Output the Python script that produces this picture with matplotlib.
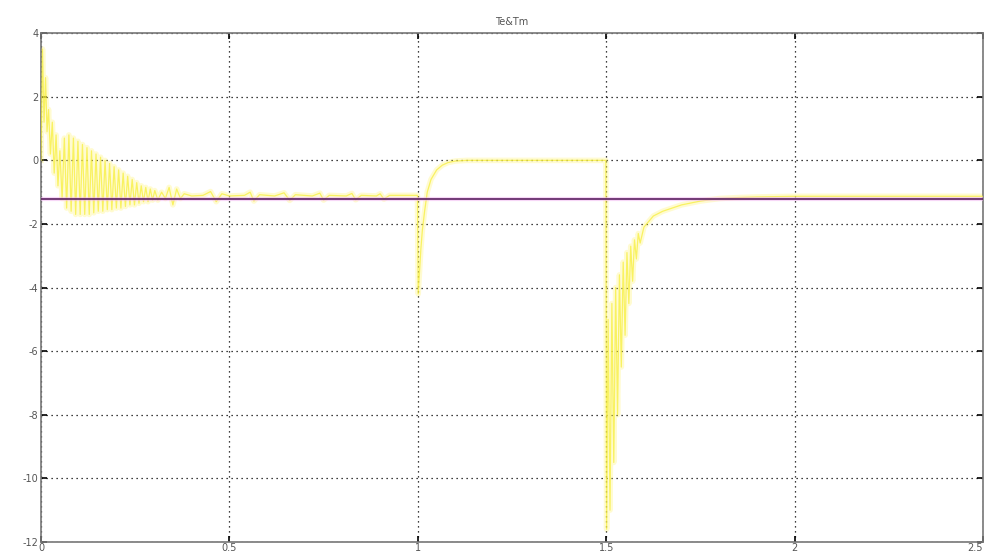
import matplotlib
matplotlib.use("Agg")
import matplotlib.pyplot as plt

plt.rcParams["axes.unicode_minus"] = False

# Te (electromagnetic torque)
te_t = [0.000, 0.004, 0.008, 0.012, 0.016, 0.020, 0.025, 0.030, 0.035, 0.040,
        0.045, 0.050, 0.056, 0.062, 0.068, 0.074, 0.080, 0.086, 0.092, 0.098,
        0.104, 0.110, 0.116, 0.122, 0.128, 0.134, 0.140, 0.146, 0.152, 0.158,
        0.164, 0.170, 0.176, 0.182, 0.188, 0.194, 0.200, 0.206, 0.212, 0.218,
        0.224, 0.230, 0.236, 0.242, 0.248, 0.254, 0.260, 0.266, 0.272, 0.278,
        0.284, 0.290, 0.296, 0.302, 0.310, 0.320, 0.330, 0.340, 0.350, 0.360,
        0.370, 0.380, 0.400, 0.430, 0.450, 0.465, 0.480, 0.500, 0.540, 0.555,
        0.565, 0.580, 0.620, 0.645, 0.660, 0.675, 0.720, 0.740, 0.750, 0.765,
        0.810, 0.825, 0.835, 0.850, 0.890, 0.900, 0.910, 0.925, 0.999,
        1.001, 1.004, 1.008, 1.012, 1.018, 1.025, 1.035, 1.050, 1.065, 1.080,
        1.100, 1.130, 1.499,
        1.501, 1.505, 1.510, 1.515, 1.520, 1.525, 1.530, 1.535, 1.540, 1.545,
        1.550, 1.555, 1.560, 1.565, 1.570, 1.575, 1.580, 1.585, 1.590, 1.600,
        1.625, 1.650, 1.700, 1.750, 1.800, 1.850, 1.900, 2.000, 2.500]
te_v = [0.0, 3.5, 1.2, 2.6, 0.9, 1.6, 0.2, 1.2, -0.4, 0.8,
        -0.8, 0.3, -1.2, 0.7, -1.5, 0.8, -1.6, 0.7, -1.7, 0.6,
        -1.7, 0.5, -1.7, 0.4, -1.7, 0.3, -1.65, 0.2, -1.6, 0.1,
        -1.6, 0.0, -1.55, -0.1, -1.55, -0.2, -1.5, -0.3, -1.5, -0.4,
        -1.45, -0.5, -1.4, -0.6, -1.4, -0.7, -1.35, -0.8, -1.3, -0.85,
        -1.3, -0.9, -1.25, -0.95, -1.25, -1.0, -1.2, -0.85, -1.4, -0.9,
        -1.2, -1.05, -1.12, -1.1, -0.98, -1.3, -1.05, -1.12, -1.1, -1.0,
        -1.28, -1.08, -1.12, -1.02, -1.26, -1.08, -1.12, -1.03, -1.25, -1.1,
        -1.12, -1.04, -1.24, -1.1, -1.12, -1.05, -1.22, -1.1, -1.1,
        -4.2, -3.6, -2.8, -2.2, -1.6, -1.0, -0.6, -0.3, -0.15, -0.07,
        -0.02, 0.0, 0.0,
        -11.6, -5.0, -11.0, -4.5, -9.5, -4.0, -8.0, -3.6, -6.5, -3.2,
        -5.5, -2.9, -4.5, -2.7, -3.8, -2.5, -3.1, -2.3, -2.6, -2.1,
        -1.75, -1.6, -1.4, -1.28, -1.2, -1.17, -1.15, -1.13, -1.13]

# Tm (load torque)
tm_t = [0.0, 2.5]
tm_v = [-1.2, -1.2]

x_ticks = [0, 0.5, 1, 1.5, 2, 2.5]
x_labels = ["0", "0.5", "1", "1.5", "2", "2.5"]
y_ticks = [4, 2, 0, -2, -4, -6, -8, -10, -12]

fig = plt.figure(figsize=(9.88, 5.53), dpi=100)
ax = fig.add_axes([0.0415, 0.02, 0.9535, 0.92])

ax.plot(te_t, te_v, color="#fff24a", lw=4, alpha=0.25, solid_joinstyle="round", zorder=2)
ax.plot(te_t, te_v, color="#f7ef3c", lw=0.9, alpha=0.75, zorder=3)
ax.plot(tm_t, tm_v, color="#f0b0f0", lw=3, alpha=0.5, zorder=4)
ax.plot(tm_t, tm_v, color="#5a2060", lw=1.2, zorder=5)

ax.set_xlim(0, 2.5)
ax.set_ylim(-12, 4)
ax.set_xticks(x_ticks)
ax.set_xticklabels(x_labels)
ax.set_yticks(y_ticks)
ax.grid(True, color="black", linestyle=(0, (1, 3)), linewidth=0.9)
ax.tick_params(direction="in", length=4, width=1.2, top=True, right=True,
               labelsize=7, labelcolor="#555555", pad=2)
ax.tick_params(axis="x", pad=0.5)
ax.get_xticklabels()[-1].set_ha("right")
for s in ax.spines.values():
    s.set_color("#777777")
    s.set_linewidth(1.2)

ax.set_title("Te&Tm", fontsize=7, color="#555555", pad=6)

fig.savefig("out.png", dpi=100)
